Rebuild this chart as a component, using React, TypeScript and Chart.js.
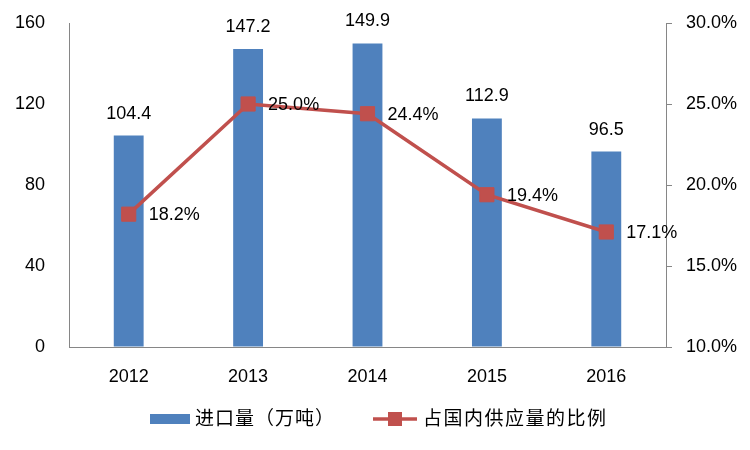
import { useEffect, useRef } from "react";
import { Chart, registerables } from "chart.js";

Chart.register(...registerables);

const years = ["2012", "2013", "2014", "2015", "2016"];
const importVolume = [104.4, 147.2, 149.9, 112.9, 96.5];
const shareOfSupply = [18.2, 25.0, 24.4, 19.4, 17.1];
const seriesNames = ["进口量（万吨）", "占国内供应量的比例"];

const BLUE = "#4F81BD";
const RED = "#C0504D";
const AXIS = "#868686";
const NUM_FONT = "'Liberation Sans', Arial, sans-serif";
const CJK_FONT = "'Noto Sans CJK SC', sans-serif";

const labelsPlugin = {
  id: "valueLabels",
  afterDatasetsDraw(chart: any) {
    const ctx = chart.ctx;
    ctx.save();
    ctx.fillStyle = "#000";
    ctx.font = `18px ${NUM_FONT}`;
    const barMeta = chart.getDatasetMeta(0);
    ctx.textAlign = "center";
    ctx.textBaseline = "middle";
    barMeta.data.forEach((el: any, i: number) => {
      ctx.fillText(importVolume[i].toFixed(1), el.x, el.y - 22);
    });
    const lineMeta = chart.getDatasetMeta(1);
    ctx.textAlign = "left";
    lineMeta.data.forEach((el: any, i: number) => {
      ctx.fillText(shareOfSupply[i].toFixed(1) + "%", el.x + 20, el.y + 1);
    });
    ctx.restore();
  },
};

const legendPlugin = {
  id: "customLegend",
  afterDraw(chart: any) {
    const ctx = chart.ctx;
    const y = 418;
    ctx.save();
    ctx.fillStyle = BLUE;
    ctx.fillRect(150, y - 4, 40, 10);
    ctx.strokeStyle = RED;
    ctx.lineWidth = 3.5;
    ctx.beginPath();
    ctx.moveTo(373, y + 1);
    ctx.lineTo(417, y + 1);
    ctx.stroke();
    ctx.fillStyle = RED;
    ctx.fillRect(395 - 7, y + 1 - 7, 14, 14);
    ctx.fillStyle = "#000";
    ctx.font = `19px ${CJK_FONT}`;
    ctx.textAlign = "left";
    ctx.textBaseline = "middle";
    (ctx as any).letterSpacing = "1px";
    ctx.fillText(seriesNames[0], 195, y);
    (ctx as any).letterSpacing = "1.5px";
    ctx.fillText(seriesNames[1], 423, y);
    ctx.restore();
  },
};

export default function App() {
  const ref = useRef<HTMLCanvasElement | null>(null);
  useEffect(() => {
    if (!ref.current) return;
    const chart = new Chart(ref.current, {
      type: "bar",
      data: {
        labels: years,
        datasets: [
          {
            type: "bar",
            label: seriesNames[0],
            data: importVolume,
            backgroundColor: BLUE,
            yAxisID: "y",
            barPercentage: 0.25,
            categoryPercentage: 1,
            order: 2,
          },
          {
            type: "line",
            label: seriesNames[1],
            data: shareOfSupply,
            borderColor: RED,
            backgroundColor: RED,
            borderWidth: 3.5,
            pointStyle: "rect",
            pointRadius: 10,
            pointBorderWidth: 1,
            pointBackgroundColor: RED,
            pointBorderColor: RED,
            yAxisID: "y1",
            order: 1,
            tension: 0,
          } as any,
        ],
      },
      options: {
        responsive: false,
        animation: false,
        layout: { padding: { top: 23, left: 0, right: 0, bottom: 0 } },
        plugins: {
          legend: { display: false },
          tooltip: { enabled: false },
        },
        scales: {
          x: {
            grid: { display: false, drawTicks: false },
            border: { display: true, color: AXIS, width: 1 },
            ticks: {
              color: "#000",
              font: { family: NUM_FONT, size: 18 },
              padding: 19,
            },
            afterFit(scale: any) {
              scale.height = 103;
            },
          },
          y: {
            position: "left",
            min: 0,
            max: 160,
            grid: { display: true, drawOnChartArea: false, drawTicks: false },
            border: { display: true, color: AXIS, width: 1 },
            ticks: {
              stepSize: 40,
              color: "#000",
              font: { family: NUM_FONT, size: 18 },
              padding: 24,
            },
            afterFit(scale: any) {
              scale.width = 69;
              scale.paddingTop = 0;
              scale.paddingBottom = 0;
            },
          },
          y1: {
            position: "right",
            min: 10,
            max: 30,
            grid: {
              display: true,
              drawOnChartArea: false,
              drawTicks: true,
              tickLength: 6,
              color: AXIS,
            },
            border: { display: true, color: AXIS, width: 1 },
            ticks: {
              stepSize: 5,
              color: "#000",
              font: { family: NUM_FONT, size: 18 },
              padding: 14,
              callback: (v: any) => Number(v).toFixed(1) + "%",
            },
            afterFit(scale: any) {
              scale.width = 84;
              scale.paddingTop = 0;
              scale.paddingBottom = 0;
            },
          },
        },
      },
      plugins: [labelsPlugin, legendPlugin],
    });
    return () => chart.destroy();
  }, []);
  return (
    <div style={{ position: "absolute", left: 0, top: 0, width: 750, height: 450, background: "#fff" }}>
      <canvas ref={ref} width={750} height={450} />
    </div>
  );
}
